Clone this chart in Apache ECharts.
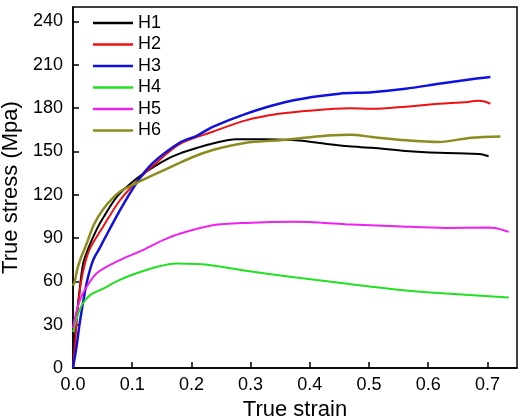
<!DOCTYPE html>
<html>
<head>
<meta charset="utf-8">
<script src="https://cdn.jsdelivr.net/npm/echarts@6/dist/echarts.min.js"></script>
<style>
  html, body { margin: 0; padding: 0; background: #fff; }
  #chart { width: 530px; height: 418px; }
</style>
</head>
<body>
<div id="chart"></div>
<script>
// [true strain, true stress]
const h1 = [[0,0],[0.003,20],[0.006,35],[0.01,50],[0.017,72],[0.026,83],[0.04,96],[0.051,104],[0.075,119],[0.107,131],[0.135,139],[0.163,145.5],[0.18,148.5],[0.21,152.5],[0.236,155.5],[0.275,158.5],[0.32,158.4],[0.377,157.7],[0.416,155.8],[0.466,153.5],[0.505,152.5],[0.562,150.3],[0.618,149],[0.673,148.4],[0.69,148],[0.702,146.6]]
const h2 = [[0,0],[0.004,20],[0.008,40],[0.013,58],[0.02,72],[0.029,83],[0.051,98],[0.079,116],[0.107,129],[0.135,140],[0.18,155],[0.236,163.6],[0.292,171.5],[0.348,176],[0.404,178.4],[0.466,179.8],[0.505,179.5],[0.562,181],[0.618,183],[0.66,184],[0.685,185],[0.695,184.5],[0.705,183]]
const h3 = [[0,0],[0.006,15],[0.012,33],[0.023,58.7],[0.034,74.7],[0.045,83],[0.05,87],[0.079,109],[0.107,128],[0.135,142],[0.18,156],[0.21,161],[0.236,167],[0.292,176],[0.348,183],[0.404,187.6],[0.45,190],[0.505,191],[0.562,193.4],[0.618,196.8],[0.673,200],[0.705,201.5]]
const h4 = [[0,25],[0.005,33],[0.01,39],[0.017,45],[0.029,50.5],[0.051,55],[0.079,61],[0.107,65.6],[0.141,70],[0.175,72.4],[0.21,72],[0.236,71],[0.292,67.3],[0.377,62.6],[0.46,58.5],[0.545,54.4],[0.63,51.6],[0.736,48.9]]
const h5 = [[0,27.7],[0.005,38],[0.01,45],[0.017,52],[0.04,65.6],[0.079,74.7],[0.118,81.6],[0.152,88.5],[0.18,93],[0.236,98.9],[0.292,100.5],[0.377,101.2],[0.46,99.6],[0.545,98.2],[0.63,97],[0.7,97.3],[0.713,97],[0.736,94.3]]
const h6 = [[0,57],[0.003,60],[0.007,68],[0.012,74.7],[0.017,80],[0.023,86],[0.035,99],[0.051,110],[0.079,122],[0.107,128],[0.135,133.5],[0.18,142],[0.208,147],[0.236,151],[0.292,156],[0.348,157.7],[0.404,160],[0.43,161],[0.47,161.5],[0.505,160],[0.562,157.7],[0.618,156.5],[0.673,159.5],[0.722,160.4]]

const names = ['H1', 'H2', 'H3', 'H4', 'H5', 'H6']
const colors = ['#000000', '#ee1111', '#1111dd', '#22e022', '#ee22ee', '#8c8c1e']
const seriesData = [h1, h2, h3, h4, h5, h6]

const chart = echarts.init(document.getElementById('chart'))
const font = 'Liberation Sans, Arial, sans-serif'

chart.setOption({
  animation: false,
  color: colors,
  grid: {
    left: 73,
    right: 13,
    top: 7,
    bottom: 50,
    outerBoundsMode: 'none',
    show: true,
    borderColor: '#000',
    borderWidth: 1.5
  },
  legend: {
    orient: 'vertical',
    left: 93,
    top: 14,
    padding: 0,
    itemWidth: 40,
    itemHeight: 2.5,
    itemGap: 3.5,
    icon: 'rect',
    textStyle: { fontSize: 18, fontFamily: font, color: '#000', lineHeight: 18 },
    data: names
  },
  xAxis: {
    type: 'value',
    min: 0,
    max: 0.75,
    interval: 0.1,
    name: 'True strain',
    nameLocation: 'middle',
    nameGap: 31,
    nameTextStyle: { fontSize: 22, fontFamily: font, color: '#000' },
    axisLine: { lineStyle: { color: '#000', width: 1.5 } },
    axisTick: { inside: true, length: 6, lineStyle: { color: '#000', width: 1.5 } },
    axisLabel: {
      showMaxLabel: false,
      margin: 8,
      fontSize: 18,
      fontFamily: font,
      color: '#000',
      formatter: v => v.toFixed(1)
    },
    splitLine: { show: false }
  },
  yAxis: {
    type: 'value',
    min: 0,
    max: 250,
    interval: 30,
    name: 'True stress (Mpa)',
    nameLocation: 'middle',
    nameGap: 42,
    nameTextStyle: { fontSize: 22, fontFamily: font, color: '#000' },
    axisLine: { lineStyle: { color: '#000', width: 1.5 } },
    axisTick: { inside: true, length: 6, lineStyle: { color: '#000', width: 1.5 } },
    axisLabel: { showMaxLabel: false, margin: 10, fontSize: 18, fontFamily: font, color: '#000' },
    splitLine: { show: false }
  },
  series: seriesData.map((d, i) => ({
    name: names[i],
    type: 'line',
    data: d,
    showSymbol: false,
    smooth: 0.3,
    lineStyle: { width: (i === 2 || i === 5) ? 2.5 : 2 }
  }))
})
</script>
</body>
</html>
